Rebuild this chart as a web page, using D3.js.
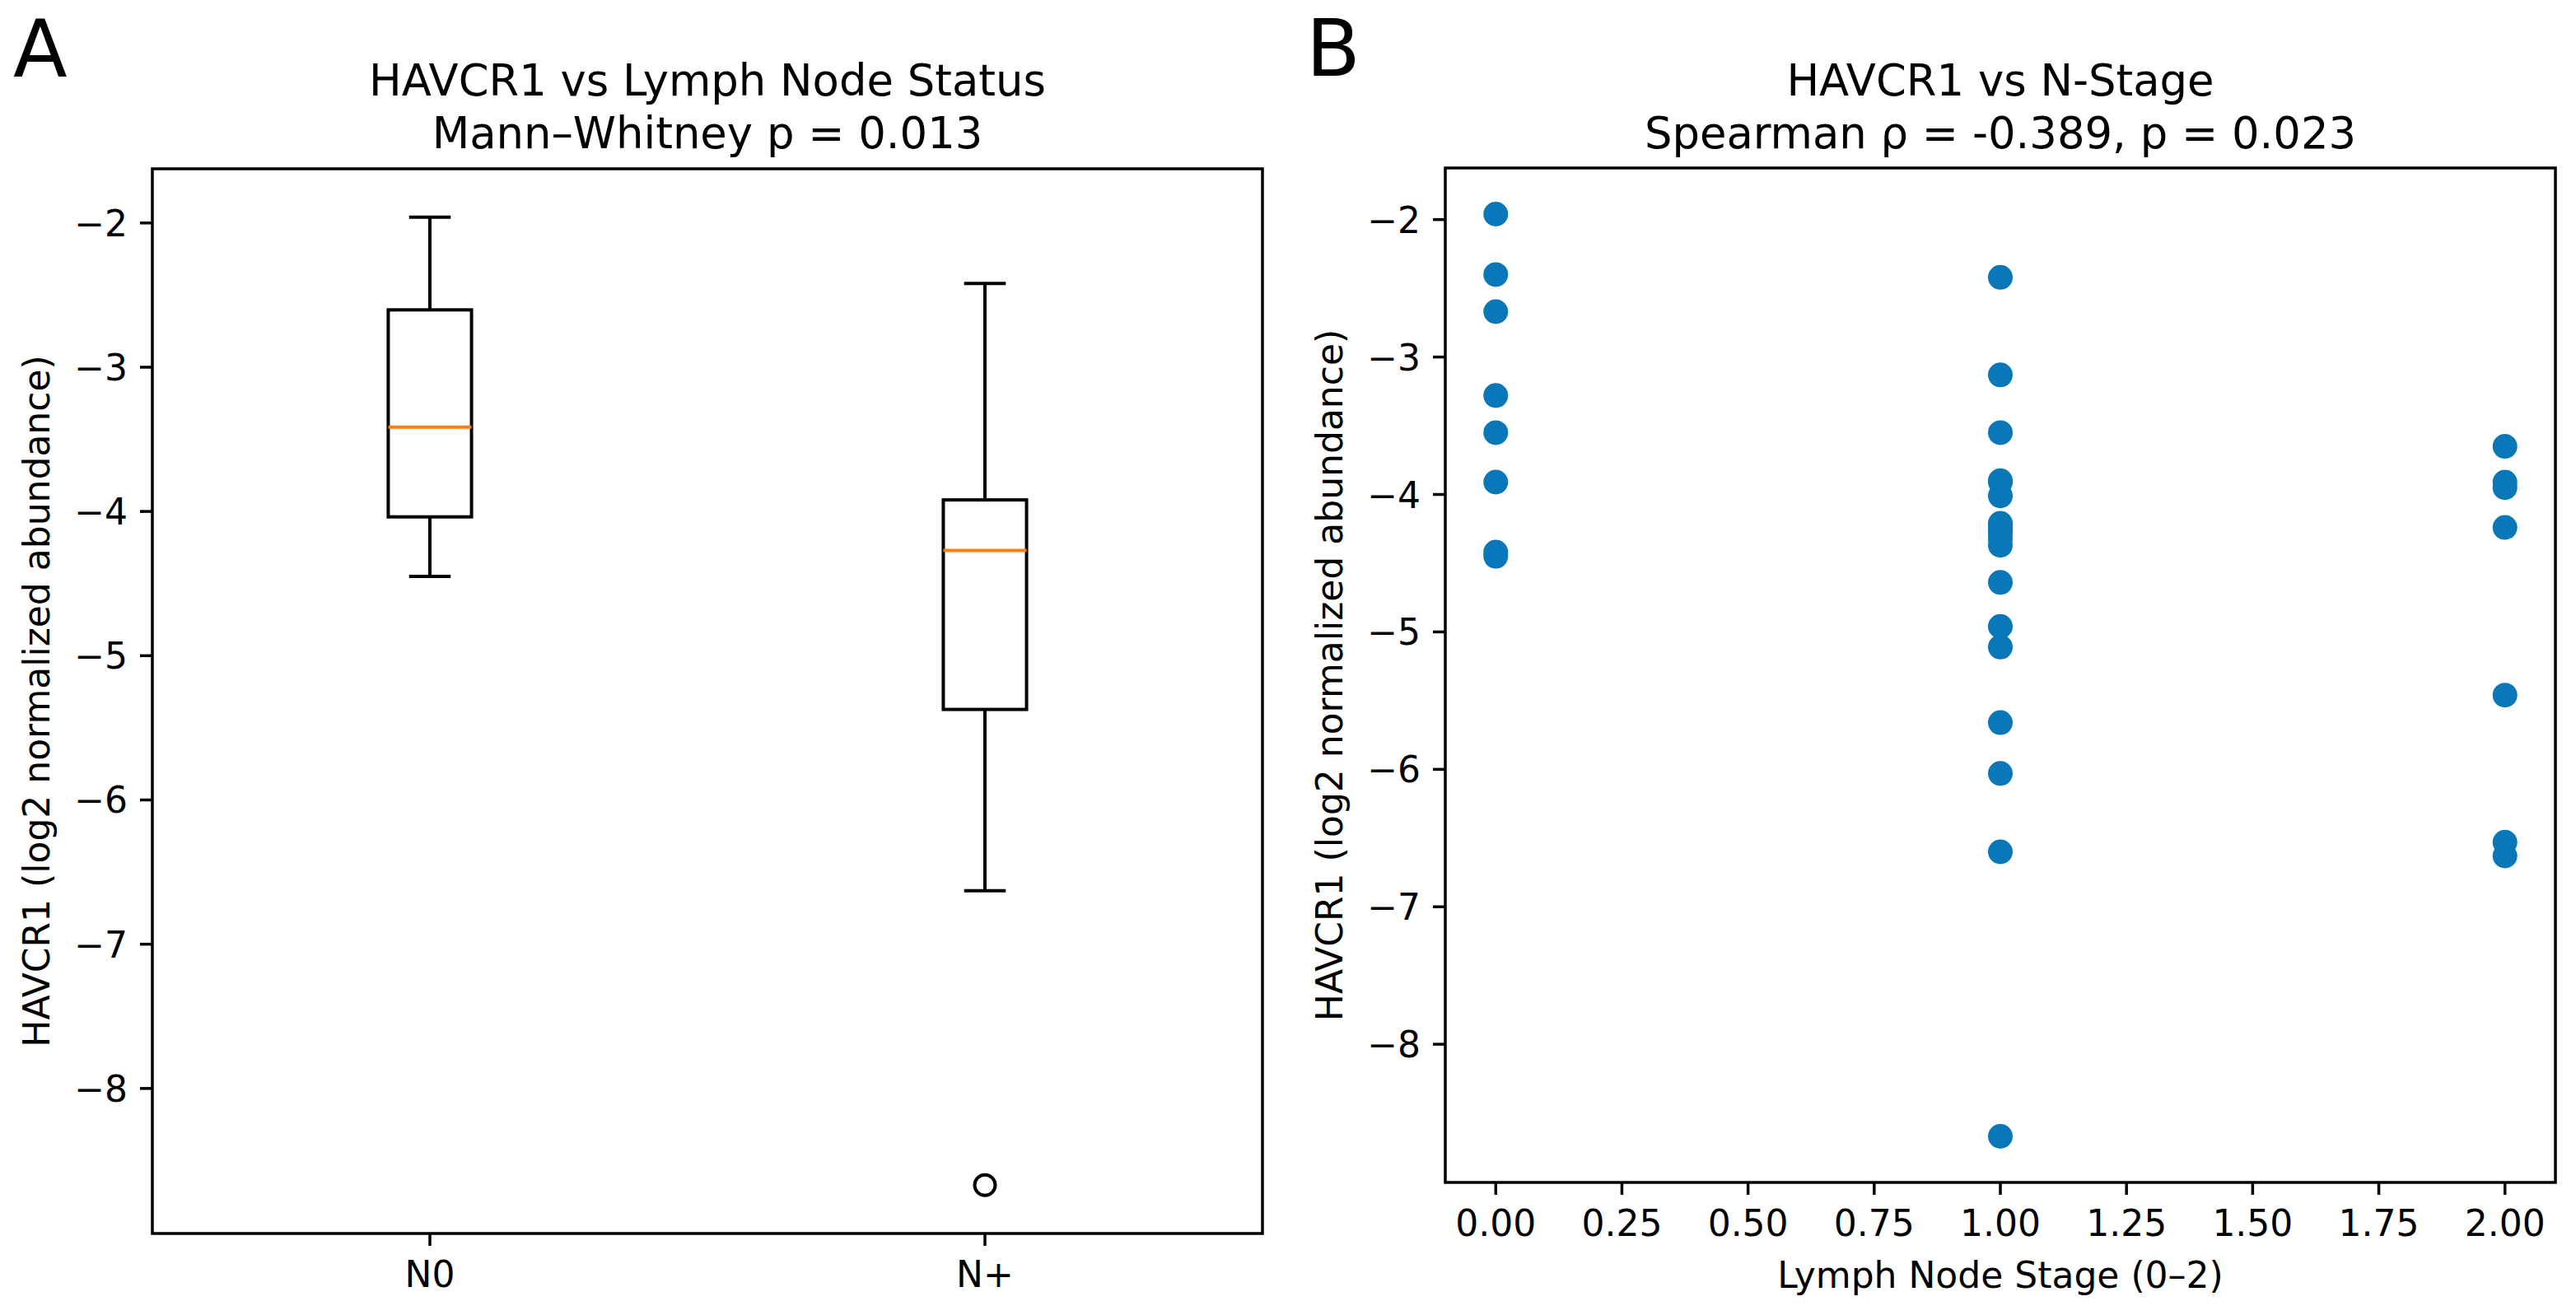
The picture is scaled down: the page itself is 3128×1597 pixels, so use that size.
<!DOCTYPE html>
<html>
<head>
<meta charset="utf-8">
<script src="https://cdn.jsdelivr.net/npm/d3@7"></script>
<style>
html,body{margin:0;padding:0;background:#fff;}
svg{display:block;font-family:"DejaVu Sans",sans-serif;}
</style>
</head>
<body>
<svg id="chart" width="3128" height="1597"></svg>
<script>
// ---- data ----
const groupLabels = ["N0", "N+"];
const stage0 = [-1.96, -2.40, -2.67, -3.28, -3.55, -3.91, -4.42, -4.45];
const stage1 = [-2.42, -3.13, -3.55, -3.90, -3.91, -4.01, -4.21, -4.23, -4.26, -4.28, -4.32, -4.37, -4.64, -4.96, -5.11, -5.66, -6.03, -6.60, -8.67];
const stage2 = [-3.65, -3.91, -3.95, -4.24, -5.46, -6.53, -6.63];
const yTicks = [-8, -7, -6, -5, -4, -3, -2];
const xTicksB = [0, 0.25, 0.5, 0.75, 1.0, 1.25, 1.5, 1.75, 2.0];
const titleA = ["HAVCR1 vs Lymph Node Status", "Mann\u2013Whitney p = 0.013"];
const titleB = ["HAVCR1 vs N-Stage", "Spearman \u03c1 = -0.389, p = 0.023"];
const yLabel = "HAVCR1 (log2 normalized abundance)";
const xLabelB = "Lymph Node Stage (0\u20132)";

// ---- setup ----
const svg = d3.select("#chart");
svg.append("rect").attr("width", 3128).attr("height", 1597).attr("fill", "#fff");
const TICK_FS = 44, TITLE_FS = 52.8, LW = 3.5, TL = 15, PAD = 15;
const fmtMinus = v => (v < 0 ? "\u2212" : "") + Math.abs(v);

const groups = [stage0, stage1.concat(stage2)];
const allVals = stage0.concat(stage1, stage2);
const lo = d3.min(allVals), hi = d3.max(allVals), m = (hi - lo) * 0.05;
const yDomain = [lo - m, hi + m];

function yAxis(g, y, x0) {
  yTicks.forEach(t => {
    const yy = y(t);
    g.append("line").attr("x1", x0 - TL).attr("x2", x0).attr("y1", yy).attr("y2", yy)
      .attr("stroke", "#000").attr("stroke-width", LW);
    g.append("text").attr("x", x0 - TL - PAD).attr("y", yy + 16)
      .attr("text-anchor", "end").attr("font-size", TICK_FS).text(fmtMinus(t));
  });
}
function frame(g, x0, x1, y0, y1) {
  g.append("rect").attr("x", x0).attr("y", y0).attr("width", x1 - x0).attr("height", y1 - y0)
    .attr("fill", "none").attr("stroke", "#000").attr("stroke-width", LW);
}
function title(g, cx, lines) {
  lines.forEach((l, i) => {
    g.append("text").attr("x", cx).attr("y", 116 + i * 63.5).attr("text-anchor", "middle")
      .attr("font-size", TITLE_FS).text(l);
  });
}
function ylab(g, x, cy) {
  g.append("text").attr("transform", `translate(${x},${cy}) rotate(-90)`)
    .attr("text-anchor", "middle").attr("font-size", TICK_FS).text(yLabel);
}

// ---- Panel A : boxplot ----
const A = svg.append("g");
const axL = 185, axR = 1533, axT = 205, axB = 1498;
const xA = d3.scaleLinear().domain([0.5, 2.5]).range([axL, axR]);
const yA = d3.scaleLinear().domain(yDomain).range([axB, axT]);
const bw = 0.15;

groups.forEach((vals, i) => {
  const pos = i + 1;
  const s = vals.slice().sort(d3.ascending);
  const q1 = d3.quantile(s, 0.25), med = d3.quantile(s, 0.5), q3 = d3.quantile(s, 0.75);
  const iqr = q3 - q1;
  const wLo = d3.min(s.filter(v => v >= q1 - 1.5 * iqr));
  const wHi = d3.max(s.filter(v => v <= q3 + 1.5 * iqr));
  const fliers = s.filter(v => v < wLo || v > wHi);
  const xl = xA(pos - bw / 2), xr = xA(pos + bw / 2), xc = xA(pos);
  const cl = xA(pos - bw / 4), cr = xA(pos + bw / 4);
  const st = sel => sel.attr("stroke", "#000").attr("stroke-width", 4).attr("fill", "none");
  st(A.append("line").attr("x1", xc).attr("x2", xc).attr("y1", yA(q3)).attr("y2", yA(wHi)));
  st(A.append("line").attr("x1", xc).attr("x2", xc).attr("y1", yA(q1)).attr("y2", yA(wLo)));
  st(A.append("line").attr("x1", cl).attr("x2", cr).attr("y1", yA(wHi)).attr("y2", yA(wHi)));
  st(A.append("line").attr("x1", cl).attr("x2", cr).attr("y1", yA(wLo)).attr("y2", yA(wLo)));
  st(A.append("rect").attr("x", xl).attr("y", yA(q3)).attr("width", xr - xl).attr("height", yA(q1) - yA(q3)));
  A.append("line").attr("x1", xl).attr("x2", xr).attr("y1", yA(med)).attr("y2", yA(med))
    .attr("stroke", "#ff7f0e").attr("stroke-width", 4);
  fliers.forEach(f => {
    A.append("circle").attr("cx", xc).attr("cy", yA(f)).attr("r", 12.5)
      .attr("fill", "none").attr("stroke", "#000").attr("stroke-width", 4);
  });
  // x tick
  A.append("line").attr("x1", xc).attr("x2", xc).attr("y1", axB).attr("y2", axB + TL)
    .attr("stroke", "#000").attr("stroke-width", LW);
  A.append("text").attr("x", xc).attr("y", 1563).attr("text-anchor", "middle")
    .attr("font-size", TICK_FS).text(groupLabels[i]);
});
frame(A, axL, axR, axT, axB);
yAxis(A, yA, axL);
title(A, (axL + axR) / 2, titleA);
ylab(A, 60, (axT + axB) / 2);
A.append("text").attr("x", 16).attr("y", 93).attr("font-size", 96).text("A");

// ---- Panel B : scatter ----
const B = svg.append("g");
const bL = 1755, bR = 3103, bT = 204, bB = 1436;
const xB = d3.scaleLinear().domain([-0.1, 2.1]).range([bL, bR]);
const yB = d3.scaleLinear().domain(yDomain).range([bB, bT]);
const pts = [];
[stage0, stage1, stage2].forEach((arr, st) => arr.forEach(v => pts.push({ x: st, y: v })));
B.selectAll("circle.pt").data(pts).enter().append("circle").attr("class", "pt")
  .attr("cx", d => xB(d.x)).attr("cy", d => yB(d.y)).attr("r", 15).attr("fill", "#0a77b8");
xTicksB.forEach(t => {
  B.append("line").attr("x1", xB(t)).attr("x2", xB(t)).attr("y1", bB).attr("y2", bB + TL)
    .attr("stroke", "#000").attr("stroke-width", LW);
  B.append("text").attr("x", xB(t)).attr("y", 1501).attr("text-anchor", "middle")
    .attr("font-size", TICK_FS).text(t.toFixed(2));
});
frame(B, bL, bR, bT, bB);
yAxis(B, yB, bL);
title(B, (bL + bR) / 2, titleB);
ylab(B, 1630, (bT + bB) / 2);
B.append("text").attr("x", (bL + bR) / 2).attr("y", 1564).attr("text-anchor", "middle")
  .attr("font-size", TICK_FS).text(xLabelB);
B.append("text").attr("x", 1586).attr("y", 92).attr("font-size", 96).text("B");
</script>
</body>
</html>
